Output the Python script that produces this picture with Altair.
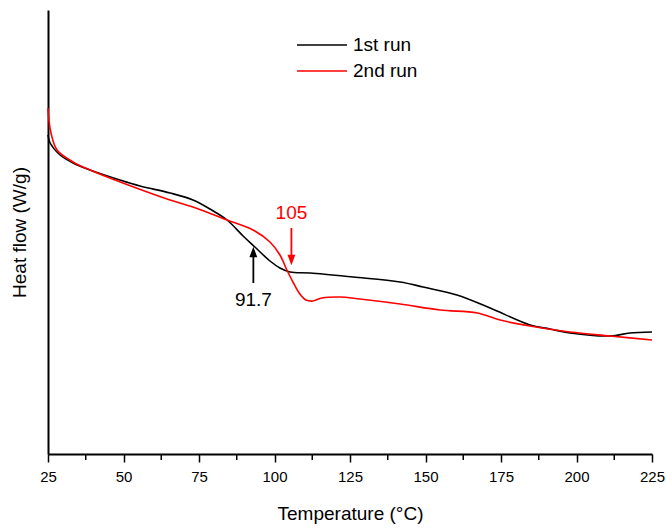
import altair as alt
import pandas as pd

FONT = "Liberation Sans"

# 1st run (black)
t1 = [25.0, 25.7, 29.0, 33.3, 38.9, 48.8, 55.5, 65.4, 73.0, 78.6, 84.3, 89.6, 93.5,
      98.5, 101.8, 105.1, 111.8, 126.0, 141.6, 149.2, 160.4, 171.4, 184.6, 191.2,
      197.8, 211.1, 217.7, 225.0]
h1 = [3.19, 3.11, 2.99, 2.91, 2.84, 2.74, 2.68, 2.61, 2.54, 2.45, 2.34, 2.18, 2.07,
      1.93, 1.86, 1.82, 1.81, 1.77, 1.72, 1.67, 1.59, 1.46, 1.29, 1.25,
      1.21, 1.18, 1.21, 1.22]

# 2nd run (red)
t2 = [25.0, 25.3, 26.0, 28.0, 33.3, 38.9, 49.8, 65.4, 73.0, 84.3, 92.9, 98.5, 101.8,
      104.1, 106.1, 108.4, 110.4, 112.7, 115.7, 121.7, 128.3, 141.6, 154.8, 167.1,
      174.7, 184.6, 197.8, 211.1, 225.0]
h2 = [3.46, 3.34, 3.21, 3.04, 2.92, 2.84, 2.71, 2.54, 2.47, 2.34, 2.24, 2.12, 1.99,
      1.84, 1.72, 1.60, 1.54, 1.53, 1.56, 1.57, 1.55, 1.50, 1.44, 1.41,
      1.34, 1.28, 1.22, 1.18, 1.14]

runs = ["1st run", "2nd run"]
colors = ["#000000", "#ff0000"]

x_ticks = [25, 50, 75, 100, 125, 150, 175, 200, 225]
x_minor = [37.5, 62.5, 87.5, 112.5, 137.5, 162.5, 187.5, 212.5]

# annotations
ann_text = ["105", "91.7"]
ann_t = [105.6, 93.0]
ann_label_h = [2.41, 1.54]
ann_shaft_top = [2.26, 1.99]
ann_shaft_bot = [1.97, 1.71]
ann_head_h = [1.94, 2.02]
ann_color = ["#ff0000", "#000000"]

df = pd.concat([
    pd.DataFrame({"T": t1, "H": h1, "run": runs[0], "order": range(len(t1))}),
    pd.DataFrame({"T": t2, "H": h2, "run": runs[1], "order": range(len(t2))}),
])

ann = pd.DataFrame({"text": ann_text, "T": ann_t, "Hl": ann_label_h,
                    "Ht": ann_shaft_top, "Hb": ann_shaft_bot, "Hh": ann_head_h,
                    "color": ann_color})

xscale = alt.Scale(domain=[25, 225], nice=False, zero=False)
yscale = alt.Scale(domain=[0, 4.44], nice=False, zero=False)

x_axis = alt.Axis(values=x_ticks, title="Temperature (°C)", grid=False,
                  tickSize=8, tickWidth=1.5, tickColor="#000", domainColor="#000",
                  domainWidth=2, labelFont=FONT, labelFontSize=15, labelColor="#000",
                  labelPadding=7, titleFont=FONT, titleFontSize=19,
                  titleFontWeight="normal", titleColor="#000", titlePadding=20,
                  orient="bottom", labelFlush=False)
y_axis = alt.Axis(title="Heat flow (W/g)", grid=False, ticks=False, labels=False,
                  domainColor="#000", domainWidth=2, titleFont=FONT, titleFontSize=19,
                  titleFontWeight="normal", titleColor="#000", titlePadding=19)

lines = alt.Chart(df).mark_line(strokeWidth=1.6, interpolate="catmull-rom").encode(
    x=alt.X("T:Q", scale=xscale, axis=x_axis),
    y=alt.Y("H:Q", scale=yscale, axis=y_axis),
    color=alt.Color("run:N", scale=alt.Scale(domain=runs, range=colors), legend=None),
    order="order:Q",
)

minor = alt.Chart(pd.DataFrame({"T": x_minor})).mark_rule(strokeWidth=1.5, color="#000").encode(
    x=alt.X("T:Q", scale=xscale),
    y=alt.value(444), y2=alt.value(450),
)

shafts = alt.Chart(ann).mark_rule(strokeWidth=1.8).encode(
    x="T:Q", y="Ht:Q", y2="Hb:Q",
    color=alt.Color("color:N", scale=None),
)
heads = alt.Chart(ann).mark_point(filled=True, size=110, opacity=1).encode(
    x="T:Q", y="Hh:Q",
    color=alt.Color("color:N", scale=None),
    shape=alt.Shape("text:N", scale=alt.Scale(
        domain=ann_text, range=["M-0.75,-1L0.75,-1L0,1Z", "M-0.75,1L0.75,1L0,-1Z"]),
        legend=None),
)
labels = alt.Chart(ann).mark_text(font=FONT, fontSize=19, baseline="middle",
                                  align="center").encode(
    x="T:Q", y="Hl:Q", text="text:N",
    color=alt.Color("color:N", scale=None),
)

leg = pd.DataFrame({"run": runs, "color": colors, "yp": [35, 61]})
leg_lines = alt.Chart(leg).mark_rule(strokeWidth=1.6).encode(
    x=alt.value(249), x2=alt.value(299),
    y=alt.Y("yp:Q", scale=None),
    color=alt.Color("color:N", scale=None),
)
leg_text = alt.Chart(leg).mark_text(font=FONT, fontSize=19, align="left",
                                    baseline="middle", color="#000").encode(
    x=alt.value(305), y=alt.Y("yp:Q", scale=None), text="run:N",
)

chart = alt.layer(lines, minor, shafts, heads, labels, leg_lines, leg_text).properties(
    width=604, height=444,
    padding={"left": 48, "top": 10, "right": 14, "bottom": 75},
    autosize=alt.AutoSizeParams(type="none"),
    background="white",
).configure_view(stroke=None)

chart.save("out.html", embed_options={"renderer": "svg", "actions": False})
